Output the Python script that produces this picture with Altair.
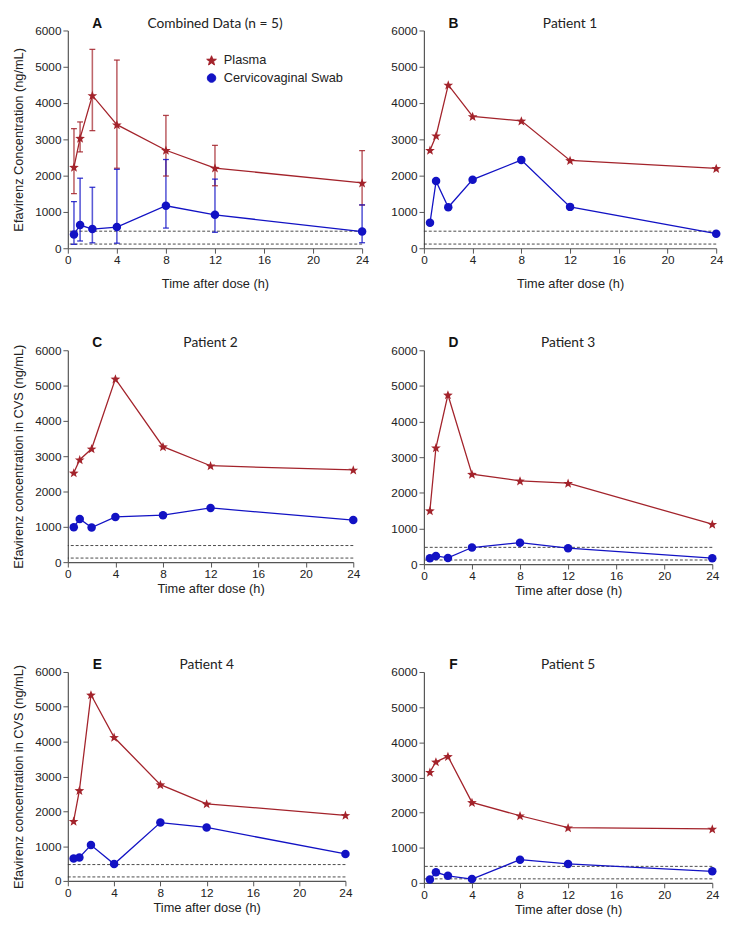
import math
import altair as alt
import pandas as pd

# ---------------- data ----------------
TIME_H = [0.5, 1, 2, 4, 8, 12, 24]
SERIES = ["Plasma", "Cervicovaginal Swab"]
X_TICKS = [0, 4, 8, 12, 16, 20, 24]
Y_TICKS = [0, 1000, 2000, 3000, 4000, 5000, 6000]
LOQ_LINES = [470, 115]

combined_plasma_mean = [2235, 3035, 4210, 3405, 2700, 2210, 1800]
combined_plasma_upper = [3295, 3480, 5480, 5185, 3660, 2835, 2690]
combined_plasma_lower = [1505, 2655, 3240, 2205, 1990, 1722, 1190]
combined_swab_mean = [380, 640, 530, 585, 1170, 920, 460]
combined_swab_upper = [1285, 1930, 1680, 2175, 2445, 1905, 1195]
combined_swab_lower = [108, 200, 150, 140, 556, 440, 152]

patient1_plasma = [2700, 3100, 4500, 3630, 3510, 2420, 2200]
patient1_swab = [700, 1850, 1130, 1890, 2430, 1140, 400]
patient2_plasma = [2530, 2900, 3210, 5190, 3270, 2730, 2610]
patient2_swab = [990, 1225, 980, 1280, 1330, 1535, 1190]
patient3_plasma = [1500, 3265, 4750, 2525, 2335, 2270, 1120]
patient3_swab = [165, 228, 173, 465, 602, 447, 165]
patient4_plasma = [1715, 2600, 5345, 4125, 2765, 2215, 1885]
patient4_swab = [645, 672, 1030, 485, 1675, 1535, 776]
patient5_plasma = [3150, 3445, 3600, 2290, 1910, 1570, 1535]
patient5_swab = [95, 300, 200, 110, 660, 540, 330]

# ---------------- styling ----------------
RED = "#a3232b"
BLUE = "#1212c4"
AXIS_FONT = "Liberation Sans"
TITLE_FONT = "Lato"


def star_path(outer=1.2, inner=0.5, n=5):
    pts = []
    for i in range(2 * n):
        r = outer if i % 2 == 0 else inner
        a = -math.pi / 2 + i * math.pi / n
        pts.append(f"{r * math.cos(a):.3f},{r * math.sin(a) + 0.1:.3f}")
    return "M" + "L".join(pts) + "Z"


STAR = star_path()

color_scale = alt.Scale(domain=SERIES, range=[RED, BLUE])
shape_scale = alt.Scale(domain=SERIES, range=[STAR, "circle"])
x_scale = alt.Scale(domain=[0, 24], nice=False)
y_scale = alt.Scale(domain=[0, 6000], nice=False)


def long_df(plasma, swab):
    rows = []
    for s, vals in zip(SERIES, [plasma, swab]):
        for t, v in zip(TIME_H, vals):
            rows.append({"time": t, "series": s, "value": v})
    return pd.DataFrame(rows)


def panel(letter, title, plasma, swab, width, height, ytitle=None,
          errors=None, legend=False, xtitle_pad=3, ytitle_pad=10):
    df = long_df(plasma, swab)
    xaxis = alt.Axis(values=X_TICKS, title="Time after dose (h)",
                     titlePadding=xtitle_pad, format="d")
    yaxis = alt.Axis(values=Y_TICKS, title=ytitle if ytitle else None,
                     titlePadding=ytitle_pad, format="d", labelOverlap=False)
    xenc = alt.X("time:Q", scale=x_scale, axis=xaxis)
    yenc = alt.Y("value:Q", scale=y_scale, axis=yaxis)

    if legend:
        leg = alt.Legend(title=None, orient="none", legendX=140, legendY=24,
                         labelFont=AXIS_FONT, labelFontSize=13,
                         labelColor="#222", symbolSize=75, rowPadding=4,
                         symbolStrokeWidth=1, labelOffset=6,
                         symbolOpacity=1)
    else:
        leg = None
    cenc = alt.Color("series:N", scale=color_scale, legend=leg)

    loq = alt.Chart(pd.DataFrame({"loq": LOQ_LINES})).mark_rule(
        strokeDash=[3, 2], color="#333", strokeWidth=0.9
    ).encode(y=alt.Y("loq:Q", scale=y_scale, axis=yaxis))

    line = alt.Chart(df).mark_line(strokeWidth=1.3).encode(
        x=xenc, y=yenc, color=cenc)
    pts = alt.Chart(df).mark_point(filled=True, opacity=1, size=75).encode(
        x=xenc, y=yenc, color=cenc,
        shape=alt.Shape("series:N", scale=shape_scale, legend=leg),
    )

    letter_mark = alt.Chart(pd.DataFrame({"label": [letter]})).mark_text(
        font=AXIS_FONT, fontSize=14, fontWeight="bold", color="#111",
        baseline="middle", align="center"
    ).encode(text="label:N", x=alt.value(30), y=alt.value(-7))
    title_mark = alt.Chart(pd.DataFrame({"label": [title]})).mark_text(
        font=TITLE_FONT, fontSize=14, color="#222",
        baseline="middle", align="center"
    ).encode(text="label:N", x=alt.value(width / 2), y=alt.value(-7))

    layers = [loq]
    if errors is not None:
        rows = []
        for s, (lo, hi) in zip(SERIES, errors):
            for t, l, h in zip(TIME_H, lo, hi):
                rows.append({"time": t, "series": s, "lower": l, "upper": h})
        edf = pd.DataFrame(rows)
        bars = alt.Chart(edf).mark_rule(strokeWidth=1.6, opacity=0.7).encode(
            x=xenc, y=alt.Y("lower:Q", scale=y_scale, axis=yaxis),
            y2="upper:Q", color=cenc)
        cap_lo = alt.Chart(edf).mark_tick(
            orient="horizontal", size=6, thickness=1.3, opacity=0.85
        ).encode(x=xenc, y=alt.Y("lower:Q", scale=y_scale, axis=yaxis),
                 color=cenc)
        cap_hi = alt.Chart(edf).mark_tick(
            orient="horizontal", size=6, thickness=1.3, opacity=0.85
        ).encode(x=xenc, y=alt.Y("upper:Q", scale=y_scale, axis=yaxis),
                 color=cenc)
        layers += [bars, cap_lo, cap_hi]
    layers += [line, pts, letter_mark, title_mark]

    return alt.layer(*layers).properties(width=width, height=height)


pA = panel("A", "Combined Data (n = 5)", combined_plasma_mean,
           combined_swab_mean, 300, 222,
           ytitle="Efavirenz Concentration (ng/mL)",
           errors=[(combined_plasma_lower, combined_plasma_upper),
                   (combined_swab_lower, combined_swab_upper)],
           legend=True, xtitle_pad=12)
pB = panel("B", "Patient 1", patient1_plasma, patient1_swab, 298, 222,
           xtitle_pad=12)
pC = panel("C", "Patient 2", patient2_plasma, patient2_swab, 291, 216,
           ytitle="Efavirenz concentration in CVS (ng/mL)")
pD = panel("D", "Patient 3", patient3_plasma, patient3_swab, 294, 218)
pE = panel("E", "Patient 4", patient4_plasma, patient4_swab, 283, 213,
           ytitle="Efavirenz concentration in CVS (ng/mL)")
pF = panel("F", "Patient 5", patient5_plasma, patient5_swab, 294, 215)


def indep(c):
    return c.resolve_scale(
        color="independent", shape="independent"
    ).resolve_legend(color="independent", shape="independent")


def row(a, b, spacing):
    return indep(alt.hconcat(a, b, spacing=spacing))


top = indep(alt.vconcat(row(pA, pB, 22), row(pC, pD, 31), spacing=47))
chart = indep(alt.vconcat(top, row(pE, pF, 39), spacing=62)
).configure_view(stroke=None
).configure_axis(
    grid=False, domainColor="#555", tickColor="#555", labelColor="#222",
    titleColor="#222", labelFont=AXIS_FONT, titleFont=AXIS_FONT,
    labelFontSize=12, titleFontSize=13, titleFontWeight="normal",
    tickSize=5, domainWidth=1.2, labelFlush=False,
).properties(padding={"left": 4, "top": 0, "right": 4, "bottom": 0})

chart.save("out.html", embed_options={"renderer": "svg", "actions": False})
